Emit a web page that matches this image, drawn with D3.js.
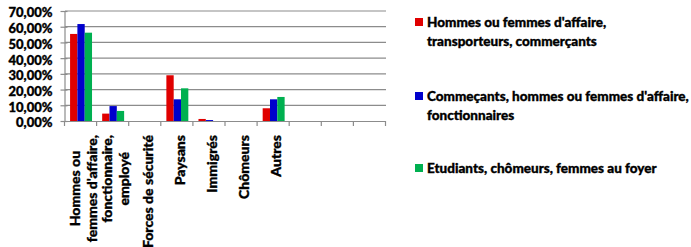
<!DOCTYPE html>
<html><head><meta charset="utf-8">
<script src="https://cdn.jsdelivr.net/npm/d3@7"></script>
<style>
html,body{margin:0;padding:0;background:#fff;}
svg{display:block;}
text{font-family:Lato,"Open Sans",sans-serif;font-weight:900;fill:#000;stroke:#000;stroke-width:0.35px;}
</style></head>
<body><svg id="c" width="691" height="247"></svg>
<script>
const categories = ["Hommes ou\nfemmes d'affaire,", "fonctionnaire,\nemployé", "Forces de sécurité", "Paysans", "Immigrés", "Chômeurs", "Autres", "", "", ""];
const seriesNames = ["Hommes ou femmes d'affaire,\ntransporteurs, commerçants", "Commeçants, hommes ou femmes d'affaire,\nfonctionnaires", "Etudiants, chômeurs, femmes au foyer"];
const seriesColors = ["#e00000", "#0000cc", "#00b050"];
const s1 = [0.554, 0.047, 0, 0.291, 0.013, 0, 0.081, null, null, null];
const s2 = [0.617, 0.095, 0, 0.138, 0.006, 0, 0.138, null, null, null];
const s3 = [0.562, 0.064, 0, 0.208, 0, 0, 0.153, null, null, null];
const yTicks = [0, 0.1, 0.2, 0.3, 0.4, 0.5, 0.6, 0.7];

const series = [s1, s2, s3];
const svg = d3.select("#c");
const x = d3.scaleBand().domain(d3.range(categories.length)).range([65, 386]).paddingInner(0).paddingOuter(0);
const y = d3.scaleLinear().domain([0, 0.7]).range([121, 11]);
const fmt = v => d3.format(".2f")(v * 100).replace(".", ",") + "%";

// gridlines
svg.append("g").selectAll("line").data(yTicks.slice(1)).join("line")
  .attr("x1", 65).attr("x2", 386).attr("y1", d => y(d)).attr("y2", d => y(d))
  .attr("stroke", "#8c8c8c").attr("stroke-width", 1.2);

// y axis
const ya = svg.append("g").attr("transform", "translate(64.5,0)")
  .call(d3.axisLeft(y).tickValues(yTicks).tickFormat(fmt).tickSize(0).tickPadding(12));
ya.select(".domain").attr("stroke", "#8c8c8c").attr("stroke-width", 1.2);
ya.selectAll("text").attr("font-size", 13).attr("dy", "0.45em")
  .style("font-family", "Lato").style("font-weight", "900");
ya.selectAll(".tick").append("line").attr("x1", -4).attr("x2", 3).attr("stroke", "#8c8c8c").attr("stroke-width", 1.2);

// bars
const bw = x.bandwidth() * 0.228;
const off = (x.bandwidth() - bw * 3) / 2;
series.forEach((s, si) => {
  svg.append("g").selectAll("rect").data(s.map((v, i) => ({v, i})).filter(d => d.v)).join("rect")
    .attr("x", d => x(d.i) + off + si * bw)
    .attr("y", d => y(d.v))
    .attr("width", bw)
    .attr("height", d => y(0) - y(d.v))
    .attr("fill", seriesColors[si]);
});

// x axis
svg.append("line").attr("x1", 64).attr("x2", 386).attr("y1", 121.5).attr("y2", 121.5)
  .attr("stroke", "#8c8c8c").attr("stroke-width", 1.2);
svg.append("g").selectAll("line").data(d3.range(categories.length + 1)).join("line")
  .attr("x1", i => 64.5 + i * x.bandwidth()).attr("x2", i => 64.5 + i * x.bandwidth())
  .attr("y1", 121).attr("y2", 126).attr("stroke", "#8c8c8c").attr("stroke-width", 1.2);

// category labels, rotated
const lh = 17, topY = 135;
categories.forEach((c, i) => {
  if (!c) return;
  const lines = c.split("\n");
  const cx = x(i) + x.bandwidth() / 2 + 2;
  const g = svg.append("g");
  const ts = lines.map((l, k) => {
    const lx = cx + (k - (lines.length - 1) / 2) * lh;
    return g.append("text").attr("font-size", 14).attr("text-anchor", "middle")
      .attr("dominant-baseline", "central").text(l).datum(lx);
  });
  const maxW = d3.max(ts, t => t.node().getComputedTextLength());
  const cy = topY + maxW / 2;
  ts.forEach(t => { const lx = t.datum(); t.attr("transform", `translate(${lx},${cy}) rotate(-90)`); });
});

// legend
const legY = [22, 96, 168];
seriesNames.forEach((n, i) => {
  const g = svg.append("g");
  g.append("rect").attr("x", 415).attr("y", legY[i] - 4).attr("width", 8).attr("height", 8).attr("fill", seriesColors[i]);
  n.split("\n").forEach((l, k) => {
    g.append("text").attr("x", 427).attr("y", legY[i] + k * 19).attr("dominant-baseline", "central")
      .attr("font-size", 13.5).text(l);
  });
});
</script></body></html>
